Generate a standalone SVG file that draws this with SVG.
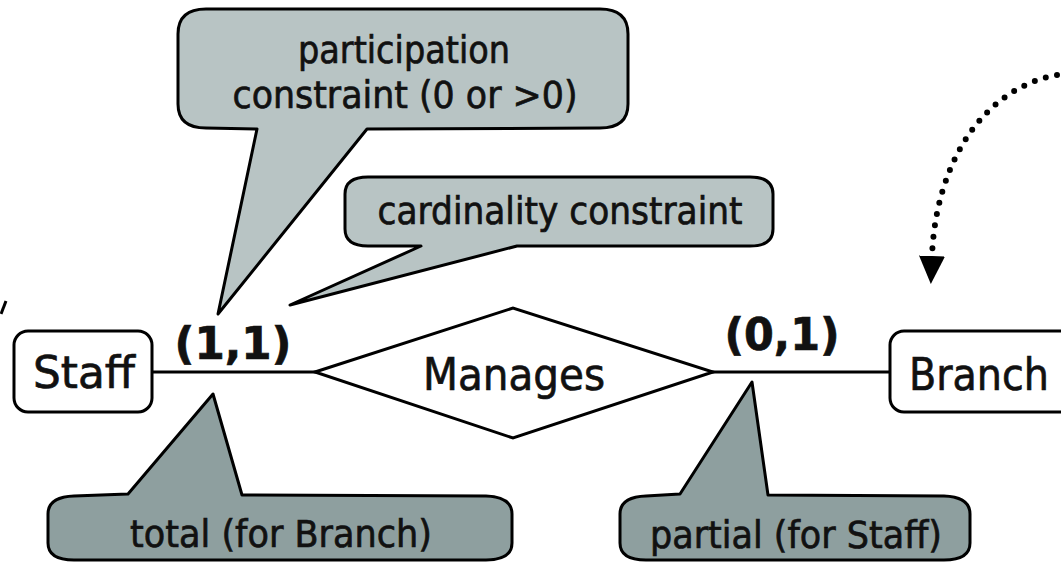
<svg xmlns="http://www.w3.org/2000/svg" width="1061" height="564" viewBox="0 0 1061 564">
  <style>
    .box { fill: #ffffff; stroke: #000000; stroke-width: 3; }
    .rel { fill: #ffffff; stroke: #000000; stroke-width: 3; stroke-linejoin: miter; }
    .link { stroke: #000000; stroke-width: 3; fill: none; }
    .note-light { fill: #b8c4c4; stroke: #000000; stroke-width: 3; stroke-linejoin: round; }
    .note-dark { fill: #8e9f9f; stroke: #000000; stroke-width: 3; stroke-linejoin: round; }
    .lbl { font-family: "DejaVu Sans", Verdana, sans-serif; fill: #111111; text-anchor: middle; stroke: #111111; stroke-width: 0.7; }
    .big { font-size: 44px; }
    .card { font-size: 44px; font-weight: bold; }
    .note { font-size: 37px; }
    .dots { fill: none; stroke: #000000; stroke-width: 6; stroke-linecap: round; stroke-dasharray: 0 11.5; }
  </style>
  <defs>
    <marker id="head" viewBox="0 0 28 26" refX="0" refY="13" markerWidth="28" markerHeight="26" markerUnits="userSpaceOnUse" orient="auto">
      <path d="M0,0 L28,13 L0,26 Z" fill="#000000"/>
    </marker>
  </defs>

  <rect width="1061" height="564" fill="#ffffff"/>

  <!-- connectors -->
  <g id="connectors">
    <line class="link" x1="152" y1="372" x2="316" y2="372"/>
    <line class="link" x1="712" y1="372" x2="891" y2="372"/>
    <path class="dots" d="M1057,75 C985,88 936,160 932,256" marker-end="url(#head)"/>
    <line class="link" x1="6" y1="301" x2="1" y2="314"/>
  </g>

  <!-- entities and relationship -->
  <g id="staff">
    <rect class="box" x="14" y="331" width="138" height="81" rx="14" ry="14"/>
    <text class="lbl big" x="84" y="388" textLength="102" lengthAdjust="spacingAndGlyphs">Staff</text>
  </g>
  <g id="manages">
    <polygon class="rel" points="315,372 513,308 713,372 513,438"/>
    <text class="lbl big" x="514" y="390" textLength="182" lengthAdjust="spacingAndGlyphs">Manages</text>
  </g>
  <g id="branch">
    <rect class="box" x="890" y="331" width="190" height="81" rx="14" ry="14"/>
    <text class="lbl big" x="979" y="390" textLength="140" lengthAdjust="spacingAndGlyphs">Branch</text>
  </g>

  <!-- multiplicities -->
  <g id="card-staff">
    <text class="lbl card" x="233" y="359" textLength="117" lengthAdjust="spacingAndGlyphs">(1,1)</text>
  </g>
  <g id="card-branch">
    <text class="lbl card" x="782" y="350" textLength="115" lengthAdjust="spacingAndGlyphs">(0,1)</text>
  </g>

  <!-- callouts -->
  <g id="note-participation">
    <path class="note-light" d="M206,9 L600,9 Q628,9 628,34 L628,104 Q628,128 600,128 L367,129 L218,314 L257,129 L206,128 Q178,128 178,104 L178,34 Q178,9 206,9 Z"/>
    <text class="lbl note" x="404" y="63" textLength="212" lengthAdjust="spacingAndGlyphs">participation</text>
    <text class="lbl note" x="405" y="108" textLength="345" lengthAdjust="spacingAndGlyphs">constraint (0 or &gt;0)</text>
  </g>
  <g id="note-cardinality">
    <path class="note-light" d="M368,177 L750,177 Q773,177 773,194 L773,229 Q773,246 750,246 L517,246 L290,305 L421,246 L368,246 Q345,246 345,229 L345,194 Q345,177 368,177 Z"/>
    <text class="lbl note" x="560" y="224" textLength="365" lengthAdjust="spacingAndGlyphs">cardinality constraint</text>
  </g>
  <g id="note-total">
    <path class="note-dark" d="M74,496 L128,494 L213,394 L242,495 L486,496 Q512,497 512,514 L512,543 Q512,560 486,560 L74,560 Q48,560 48,543 L48,514 Q48,497 74,496 Z"/>
    <text class="lbl note" x="281" y="547" textLength="302" lengthAdjust="spacingAndGlyphs">total (for Branch)</text>
  </g>
  <g id="note-partial">
    <path class="note-dark" d="M646,496 L680,494 L752,382 L768,495 L944,496 Q970,497 970,514 L970,543 Q970,560 944,560 L646,560 Q620,560 620,543 L620,514 Q620,497 646,496 Z"/>
    <text class="lbl note" x="796" y="548" textLength="292" lengthAdjust="spacingAndGlyphs">partial (for Staff)</text>
  </g>
</svg>
